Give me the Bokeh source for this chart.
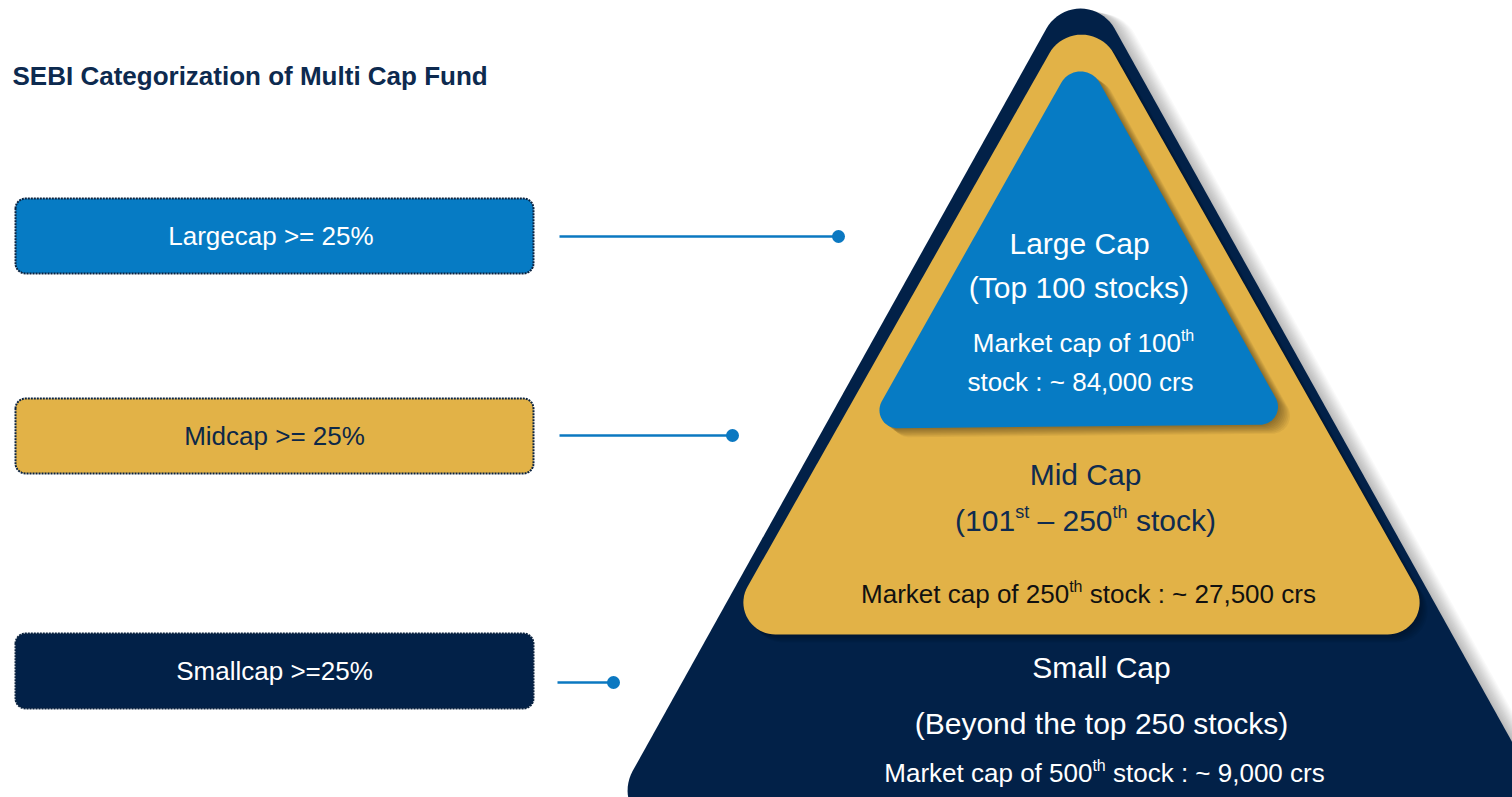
import numpy as np
from bokeh.plotting import figure
from bokeh.models import Range1d
from bokeh.embed import file_html
from bokeh.resources import INLINE
from bokeh.core.properties import value

# ---------------- data ----------------
title = "SEBI Categorization of Multi Cap Fund"
segments = ["Largecap", "Midcap", "Smallcap"]
box_labels = ["Largecap  >= 25%", "Midcap >= 25%", "Smallcap >=25%"]
min_alloc_pct = [25, 25, 25]
tier_names = ["Large Cap", "Mid Cap", "Small Cap"]
tier_scope_large = "(Top 100 stocks)"
tier_scope_small = "(Beyond the top 250 stocks)"
mid_rank_from = 101
mid_rank_to = 250
cutoff_rank = [100, 250, 500]
cutoff_cap_crs = ["84,000", "27,500", "9,000"]

# ---------------- style / layout ----------------
FONT = "Liberation Sans"
NAVY = "#022148"
BLUE = "#067BC4"
GOLD = "#E2B247"
TITLE_C = "#0D2A4F"
MIDTXT = "#0F2B4F"
LINE_C = "#0B78C1"

W, H = 1512, 797
p = figure(width=W, height=H, output_backend="svg", toolbar_location=None,
           x_range=Range1d(0, W), y_range=Range1d(H, 0),
           min_border=0, outline_line_color=None)
p.axis.visible = False
p.grid.visible = False
p.background_fill_color = "white"
p.border_fill_color = "white"

# Arial / Liberation Sans advance widths (per 1000 em)
AW = {' ': 278, '(': 333, ')': 333, ',': 278, '.': 278, ':': 278, '~': 584, '\u2013': 556,
      '>': 584, '=': 584, '%': 889}
for ch in "0123456789":
    AW[ch] = 556
AW.update(dict(a=556, b=556, c=500, d=556, e=556, f=278, g=556, h=556, i=222, j=222, k=500,
               l=222, m=833, n=556, o=556, p=556, q=556, r=333, s=500, t=278, u=556, v=500,
               w=722, x=500, y=500, z=500, A=667, B=667, C=722, D=722, E=667, F=611, G=778,
               H=722, I=278, J=500, K=667, L=556, M=833, N=722, O=778, P=667, Q=778, R=722,
               S=667, T=611, U=722, V=667, W=944, X=667, Y=667, Z=611))


def tw(t, size):
    return sum(AW.get(c, 556) for c in t) * size / 1000.0


def rounded_poly(verts, radii, n=20):
    xs, ys = [], []
    N = len(verts)
    for i in range(N):
        p0 = np.array(verts[i - 1], float)
        p1 = np.array(verts[i], float)
        p2 = np.array(verts[(i + 1) % N], float)
        v1, v2 = p0 - p1, p2 - p1
        l1, l2 = np.linalg.norm(v1), np.linalg.norm(v2)
        u1, u2 = v1 / l1, v2 / l2
        ang = np.arccos(np.clip(np.dot(u1, u2), -1, 1))
        r = radii[i]
        t = r / np.tan(ang / 2)
        t = min(t, 0.49 * l1, 0.49 * l2)
        r = t * np.tan(ang / 2)
        a = p1 + u1 * t
        b = p1 + u2 * t
        bis = (u1 + u2) / np.linalg.norm(u1 + u2)
        c = p1 + bis * (r / np.sin(ang / 2))
        tha = np.arctan2(a[1] - c[1], a[0] - c[0])
        thb = np.arctan2(b[1] - c[1], b[0] - c[0])
        dth = (thb - tha + np.pi) % (2 * np.pi) - np.pi
        for k in range(n + 1):
            th = tha + dth * k / n
            xs.append(c[0] + r * np.cos(th))
            ys.append(c[1] + r * np.sin(th))
    return xs, ys


def shape(verts, radii, color, shadow=None):
    xs, ys = rounded_poly(verts, radii)
    if shadow:
        dx, dy, nl, al = shadow
        for i in range(nl, 0, -1):
            f = i / nl
            p.patch([x + dx * f for x in xs], [y + dy * f for y in ys],
                    fill_color="black", fill_alpha=al, line_color=None)
    p.patch(xs, ys, fill_color=color, line_color=None)


# ---------------- pyramid ----------------
shape([(1080, -33), (1561, 830), (599, 830)], [39, 40, 40], NAVY, shadow=(20, 5, 12, 0.025))
shape([(1081, -4), (1442, 634), (720, 634)], [37, 32, 32], GOLD, shadow=(8, 8, 6, 0.05))
shape([(1080, 48), (1290, 424), (866, 428)], [22, 18, 18], BLUE, shadow=(12, 9, 8, 0.05))

# ---------------- left boxes ----------------
box_x0, box_x1 = 15, 533
box_tops = [198, 398, 633]
box_h = 75
box_fill = [BLUE, GOLD, NAVY]
box_txt = ["white", "#0D2848", "white"]
for i, lab in enumerate(box_labels):
    y0 = box_tops[i]
    y1 = y0 + box_h
    xs, ys = rounded_poly([(box_x0, y0), (box_x1, y0), (box_x1, y1), (box_x0, y1)], [10] * 4, n=8)
    p.patch(xs, ys, fill_color=box_fill[i], line_color="#0B2340", line_width=2, line_dash="2 1")
    p.text(x=[(box_x0 + box_x1) / 2], y=[y0 + box_h / 2], text=[lab], text_align="center",
           text_baseline="alphabetic", text_color=box_txt[i], text_font=value(FONT),
           text_font_size="26px")

# connectors
conn_y = [236, 435, 682]
conn_x0 = [559, 559, 557]
conn_x1 = [838, 732, 613]
for i in range(3):
    p.line([conn_x0[i], conn_x1[i]], [conn_y[i], conn_y[i]], line_color=LINE_C, line_width=2.5)
p.scatter(conn_x1, conn_y, size=13, fill_color=LINE_C, line_color=None)

# title
p.text(x=[12], y=[75], text=[title], text_align="left", text_baseline="alphabetic",
       text_color=TITLE_C, text_font=value(FONT), text_font_size="26px", text_font_style="bold")


# ---------------- pyramid texts ----------------
def draw_line(segs, cx, base, color):
    main = max(s for t, s, sup in segs)
    base = base - 0.37 * main
    total = sum(tw(t, s) for t, s, sup in segs)
    x = cx - total / 2
    for t, s, sup in segs:
        lead = len(t) - len(t.lstrip(' '))
        txt = t.strip(' ')
        yy = base - (sup if sup else 0)
        p.text(x=[x + tw(' ' * lead, s)], y=[yy], text=[txt], text_align="left",
               text_baseline="alphabetic", text_color=color, text_font=value(FONT),
               text_font_size=f"{s}px")
        x += tw(t, s)


def cap_line(rank, cap, newline):
    if newline:
        return ([(f"Market cap of {rank}", 26, 0), ("th", 16, 7)],
                [(f"stock : ~ {cap} crs", 26, 0)])
    return [(f"Market cap of {rank}", 26, 0), ("th", 16, 7), (f" stock : ~ {cap} crs", 26, 0)]


# Large cap
draw_line([(tier_names[0], 30, 0)], 1079, 254, "white")
draw_line([(tier_scope_large, 30, 0)], 1080, 298, "white")
l1, l2 = cap_line(cutoff_rank[0], cutoff_cap_crs[0], True)
draw_line(l1, 1083, 352, "white")
draw_line(l2, 1080, 391, "white")

# Mid cap
draw_line([(tier_names[1], 30, 0)], 1085, 485, MIDTXT)
draw_line([(f"({mid_rank_from}", 30, 0), ("st", 18, 8), (f" \u2013 {mid_rank_to}", 30, 0),
           ("th", 18, 8), (" stock)", 30, 0)], 1085, 531, MIDTXT)
draw_line(cap_line(cutoff_rank[1], cutoff_cap_crs[1], False), 1088, 603, "#111111")

# Small cap
draw_line([(tier_names[2], 30, 0)], 1101, 678, "white")
draw_line([(tier_scope_small, 30, 0)], 1101, 734, "white")
draw_line(cap_line(cutoff_rank[2], cutoff_cap_crs[2], False), 1104, 782, "white")

open("out.html", "w").write(file_html(p, INLINE))
